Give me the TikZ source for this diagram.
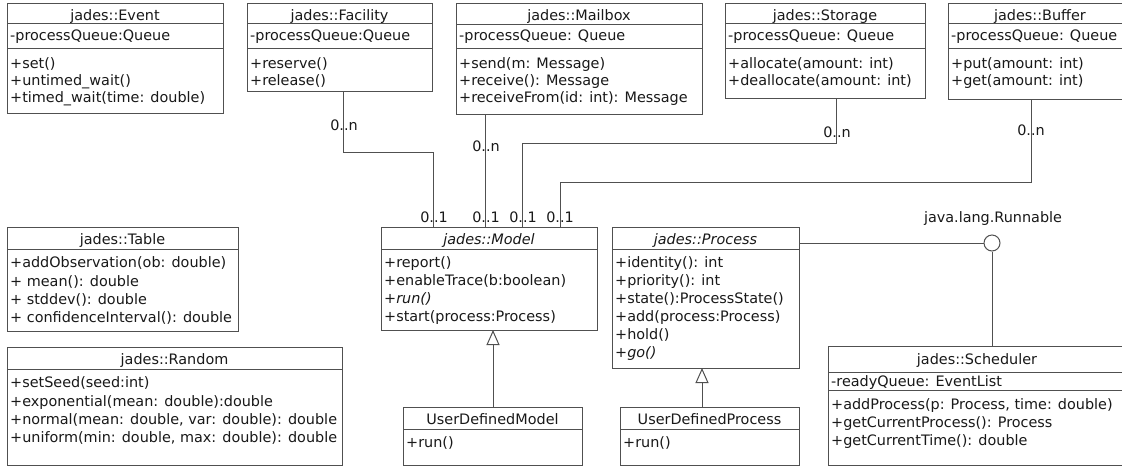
\documentclass[tikz,border=0pt]{standalone}
\usepackage{fontspec}
\setmainfont{DejaVu Sans}
\usetikzlibrary{arrows.meta,calc}
\definecolor{lc}{RGB}{80,80,80}
\definecolor{tc}{RGB}{25,25,25}
\newcommand\umlsep[2]{\draw[sepl] ([yshift=-#2pt]#1.north west) -- ([yshift=-#2pt]#1.north east);}
\newcommand\umlttl[4]{\node[ttl] (#1) at ([yshift=-#3pt]#2.north) {#4};}
\newcommand\umltxt[4]{\node[txt] (#1) at ([xshift=3pt,yshift=-#3pt]#2.north west) {#4};}
\begin{document}
\begin{tikzpicture}[x=1pt,y=-1pt,
  every node/.style={font=\fontsize{14.4}{17}\selectfont, text=tc},
  cls/.style={draw=lc, line width=1pt, anchor=north west, inner sep=0pt, outer sep=0pt, fill=white},
  sepl/.style={draw=lc, line width=1pt},
  ttl/.style={anchor=base, inner sep=0pt},
  txt/.style={anchor=base west, inner sep=0pt},
  mult/.style={anchor=base, inner sep=0pt},
  conn/.style={draw=lc, line width=1pt},
  inh/.style={draw=lc, line width=1pt, -{Triangle[open, length=15pt, width=13pt, fill=white]}},
]
\fill[white] (0,0) rectangle (1122,467);
\useasboundingbox (0,0) rectangle (1122,467);

% ---------- top row ----------
\node[cls, minimum width=216pt, minimum height=110pt] (event) at (7,3) {};
\umlsep{event}{20}\umlsep{event}{45}
\umlttl{event-t}{event}{17}{jades::Event}
\umltxt{event-a}{event}{37}{-processQueue:Queue}
\umltxt{event-m1}{event}{65}{+set()}
\umltxt{event-m2}{event}{82}{+untimed\_wait()}
\umltxt{event-m3}{event}{99}{+timed\_wait(time: double)}

\node[cls, minimum width=185pt, minimum height=88pt] (fac) at (247,3) {};
\umlsep{fac}{20}\umlsep{fac}{45}
\umlttl{fac-t}{fac}{17}{jades::Facility}
\umltxt{fac-a}{fac}{37}{-processQueue:Queue}
\umltxt{fac-m1}{fac}{65}{+reserve()}
\umltxt{fac-m2}{fac}{82}{+release()}

\node[cls, minimum width=246pt, minimum height=111pt] (mail) at (456,3) {};
\umlsep{mail}{21}\umlsep{mail}{45}
\umlttl{mail-t}{mail}{17}{jades::Mailbox}
\umltxt{mail-a}{mail}{37}{-processQueue: Queue}
\umltxt{mail-m1}{mail}{65}{+send(m: Message)}
\umltxt{mail-m2}{mail}{82}{+receive(): Message}
\umltxt{mail-m3}{mail}{99}{+receiveFrom(id: int): Message}

\node[cls, minimum width=200pt, minimum height=95pt] (stor) at (725,3) {};
\umlsep{stor}{20}\umlsep{stor}{45}
\umlttl{stor-t}{stor}{17}{jades::Storage}
\umltxt{stor-a}{stor}{37}{-processQueue: Queue}
\umltxt{stor-m1}{stor}{65}{+allocate(amount: int)}
\umltxt{stor-m2}{stor}{82}{+deallocate(amount: int)}

\node[cls, minimum width=184pt, minimum height=96pt] (buf) at (948,3) {};
\umlsep{buf}{20}\umlsep{buf}{45}
\umlttl{buf-t}{buf}{17}{jades::Buffer}
\umltxt{buf-a}{buf}{37}{-processQueue: Queue}
\umltxt{buf-m1}{buf}{65}{+put(amount: int)}
\umltxt{buf-m2}{buf}{82}{+get(amount: int)}

% ---------- left column ----------
\node[cls, minimum width=231pt, minimum height=104pt] (table) at (7,227) {};
\umlsep{table}{22}
\umlttl{table-t}{table}{17.5}{jades::Table}
\umltxt{table-m1}{table}{40.5}{+addObservation(ob: double)}
\umltxt{table-m2}{table}{59}{+ mean(): double}
\umltxt{table-m3}{table}{77.5}{+ stddev(): double}
\umltxt{table-m4}{table}{95.5}{+ confidenceInterval(): double}

\node[cls, minimum width=335pt, minimum height=118pt] (rand) at (7,347) {};
\umlsep{rand}{22}
\umlttl{rand-t}{rand}{17.5}{jades::Random}
\umltxt{rand-m1}{rand}{40.5}{+setSeed(seed:int)}
\umltxt{rand-m2}{rand}{59}{+exponential(mean: double):double}
\umltxt{rand-m3}{rand}{77.5}{+normal(mean: double, var: double): double}
\umltxt{rand-m4}{rand}{95.5}{+uniform(min: double, max: double): double}

% ---------- model / process ----------
\node[cls, minimum width=216pt, minimum height=103pt] (model) at (381,227) {};
\umlsep{model}{22}
\umlttl{model-t}{model}{17.5}{\itshape jades::Model}
\umltxt{model-m1}{model}{40.5}{+report()}
\umltxt{model-m2}{model}{58.5}{+enableTrace(b:boolean)}
\umltxt{model-m3}{model}{76.5}{\itshape +run()}
\umltxt{model-m4}{model}{94.5}{+start(process:Process)}

\node[cls, minimum width=187pt, minimum height=141pt] (proc) at (612,227) {};
\umlsep{proc}{22}
\umlttl{proc-t}{proc}{17.5}{\itshape jades::Process}
\umltxt{proc-m1}{proc}{40.5}{+identity(): int}
\umltxt{proc-m2}{proc}{58.5}{+priority(): int}
\umltxt{proc-m3}{proc}{76.5}{+state():ProcessState()}
\umltxt{proc-m4}{proc}{94.5}{+add(process:Process)}
\umltxt{proc-m5}{proc}{112.5}{+hold()}
\umltxt{proc-m6}{proc}{130.5}{\itshape +go()}

\node[cls, minimum width=179pt, minimum height=58pt] (udm) at (403,407) {};
\umlsep{udm}{22}
\umlttl{udm-t}{udm}{17.5}{UserDefinedModel}
\umltxt{udm-m1}{udm}{40}{+run()}

\node[cls, minimum width=179pt, minimum height=58pt] (udp) at (620,407) {};
\umlsep{udp}{22}
\umlttl{udp-t}{udp}{17.5}{UserDefinedProcess}
\umltxt{udp-m1}{udp}{40}{+run()}

% ---------- scheduler ----------
\node[cls, minimum width=298pt, minimum height=119pt] (sched) at (828,346) {};
\umlsep{sched}{26}\umlsep{sched}{44}
\umlttl{sched-t}{sched}{18.5}{jades::Scheduler}
\umltxt{sched-a}{sched}{40}{-readyQueue: EventList}
\umltxt{sched-m1}{sched}{63.5}{+addProcess(p: Process, time: double)}
\umltxt{sched-m2}{sched}{81.5}{+getCurrentProcess(): Process}
\umltxt{sched-m3}{sched}{99.5}{+getCurrentTime(): double}

% ---------- associations ----------
\coordinate (f1) at (343,152);
\coordinate (f2) at (433,0);
\coordinate (m1) at (485,0);
\coordinate (s1) at (836,143);
\coordinate (s2) at (522,0);
\coordinate (b1) at (1031,182);
\coordinate (b2) at (560,0);
\draw[conn] (fac.south -| f1) -- (f1) -| (model.north -| f2);
\draw[conn] (mail.south -| m1) -- (model.north -| m1);
\draw[conn] (stor.south -| s1) -- (s1) -| (model.north -| s2);
\draw[conn] (buf.south -| b1) -- (b1) -| (model.north -| b2);

\node[mult] (lfac) at (344,130) {0..n};
\node[mult] (lmail) at (486,151) {0..n};
\node[mult] (lstor) at (837,137) {0..n};
\node[mult] (lbuf) at (1031,135) {0..n};
\node[mult] (lm1) at (434,222) {0..1};
\node[mult] (lm2) at (486,222) {0..1};
\node[mult] (lm3) at (523,222) {0..1};
\node[mult] (lm4) at (560,222) {0..1};

% ---------- inheritance ----------
\coordinate (i1) at (493,0);
\coordinate (i2) at (702,0);
\draw[inh] (udm.north -| i1) -- (model.south -| i1);
\draw[inh] (udp.north -| i2) -- (proc.south -| i2);

% ---------- interface ----------
\node[circle, draw=lc, line width=1pt, minimum size=16pt, inner sep=0pt, fill=white] (run) at (992,243) {};
\node[mult] (runl) at (993,222) {java.lang.Runnable};
\draw[conn] (proc.north east |- run) -- (run.west);
\draw[conn] (run.south) -- (sched.north -| run);
\end{tikzpicture}
\end{document}
